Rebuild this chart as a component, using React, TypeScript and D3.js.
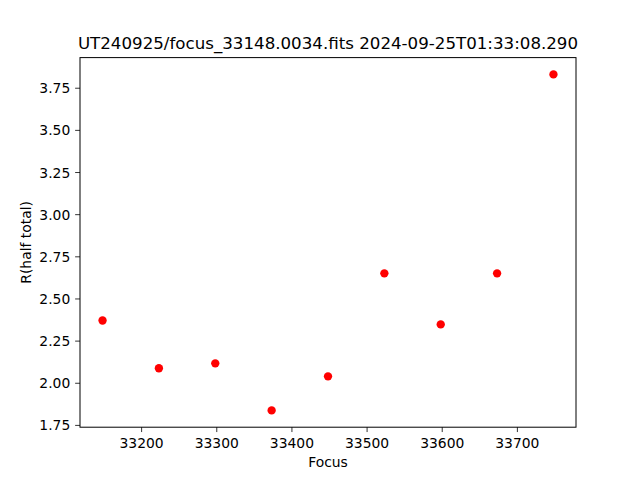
import React from "react";
import * as d3 from "d3";

const focus = [33148, 33223, 33298, 33373, 33448, 33523, 33598, 33673, 33748];
const rHalf = [2.372, 2.089, 2.118, 1.839, 2.041, 2.652, 2.349, 2.652, 3.832];
const xTicks = [33200, 33300, 33400, 33500, 33600, 33700];
const yTicks = [1.75, 2.0, 2.25, 2.5, 2.75, 3.0, 3.25, 3.5, 3.75];
const title = "UT240925/focus_33148.0034.fits 2024-09-25T01:33:08.290";

export default function App() {
  const W = 640, H = 480;
  const left = 80, right = 576, top = 57.6, bottom = 427.2;
  const [xmin, xmax] = d3.extent(focus) as [number, number];
  const [ymin, ymax] = d3.extent(rHalf) as [number, number];
  const xm = (xmax - xmin) * 0.05, ym = (ymax - ymin) * 0.05;
  const x = d3.scaleLinear().domain([xmin - xm, xmax + xm]).range([left, right]);
  const y = d3.scaleLinear().domain([ymin - ym, ymax + ym]).range([bottom, top]);
  const font = "DejaVu Sans, sans-serif";
  const tl = 4.86;
  return (
    <svg width={W} height={H} style={{ position: "absolute", left: 0, top: 0 }} fontFamily={font}>
      <rect x={0} y={0} width={W} height={H} fill="white" />
      {focus.map((f, i) => (
        <circle key={i} cx={x(f)} cy={y(rHalf[i])} r={4.17} fill="#ff0000" />
      ))}
      <rect x={left} y={top} width={right - left} height={bottom - top} fill="none" stroke="black" strokeWidth={1} />
      {xTicks.map((t) => (
        <g key={t}>
          <line x1={x(t)} x2={x(t)} y1={bottom} y2={bottom + tl} stroke="black" strokeWidth={0.8} />
          <text x={x(t)} y={bottom + tl + 4.86 + 10.6} textAnchor="middle" fontSize={13.89} fill="black">
            {t}
          </text>
        </g>
      ))}
      {yTicks.map((t) => (
        <g key={t}>
          <line x1={left - tl} x2={left} y1={y(t)} y2={y(t)} stroke="black" strokeWidth={0.8} />
          <text x={left - tl - 4.86} y={y(t)} dy="0.36em" textAnchor="end" fontSize={13.89} fill="black">
            {t.toFixed(2)}
          </text>
        </g>
      ))}
      <text x={(left + right) / 2} y={top - 8.33} textAnchor="middle" fontSize={16.67} fill="black">
        {title}
      </text>
      <text x={(left + right) / 2} y={467} textAnchor="middle" fontSize={13.89} fill="black">
        Focus
      </text>
      <text transform={`translate(31,${(top + bottom) / 2}) rotate(-90)`} textAnchor="middle" fontSize={13.89} fill="black">
        R(half total)
      </text>
    </svg>
  );
}
